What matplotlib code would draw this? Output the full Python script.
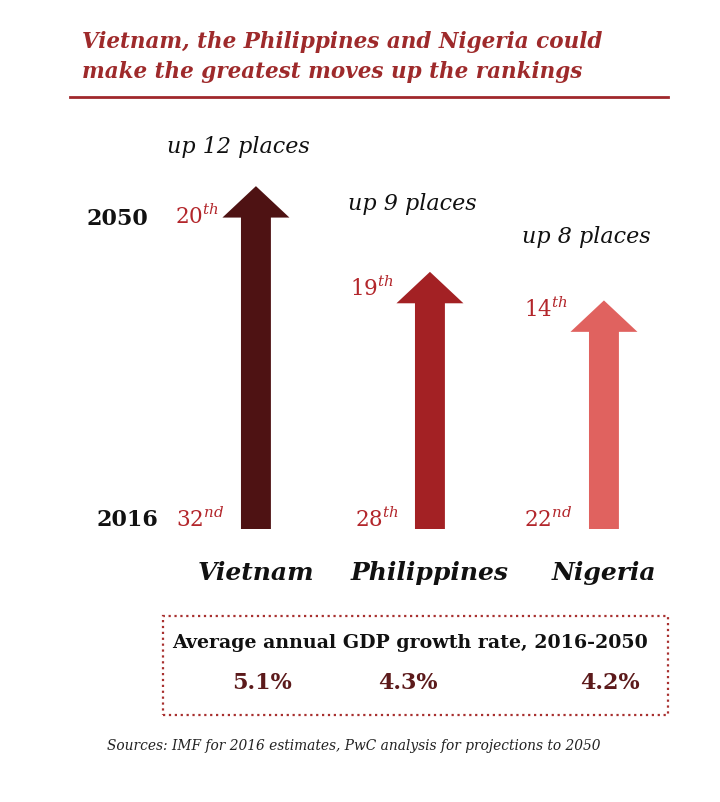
import matplotlib.pyplot as plt
from matplotlib.patches import Rectangle
from matplotlib.lines import Line2D

plt.rcParams['font.family'] = ['DejaVu Serif']
plt.rcParams['mathtext.fontset'] = 'dejavuserif'

# data
countries = ["Vietnam", "Philippines", "Nigeria"]
rank_2016 = [32, 28, 22]
rank_2050 = [20, 19, 14]
places_up = [12, 9, 8]
gdp_growth = ["5.1%", "4.3%", "4.2%"]
suffix_2016 = ["nd", "th", "nd"]
suffix_2050 = ["th", "th", "th"]

arrow_colors = ["#4e1213", "#a32124", "#e0625f"]
label_dy = [1.4, 2.4, 2.25]   # gap between arrow tip and "up N places"
rank_dy = [1.05, 0.55, 0.3]   # 2050 rank label below tip

fig = plt.figure(figsize=(7.2, 8.03), dpi=100)
W, H = 720, 803

def fx(px):
    return px / W

def fy(py):
    return 1 - py / H

# title + rule
fig.text(fx(82), fy(42), "Vietnam, the Philippines and Nigeria could",
         fontsize=15.5, fontweight='bold', fontstyle='italic', color='#9e2a2b', va='center')
fig.text(fx(82), fy(72), "make the greatest moves up the rankings",
         fontsize=15.5, fontweight='bold', fontstyle='italic', color='#9e2a2b', va='center')
fig.add_artist(Line2D([fx(70), fx(668)], [fy(98), fy(98)], color='#a0282c', lw=2))

# arrows
ax = fig.add_axes([fx(60), fy(600), (700 - 60) / W, (600 - 120) / H])
ax.set_xlim(-1.126, 2.552)
ax.set_ylim(-2.45, 14.35)
ax.axis('off')

for i, c in enumerate(countries):
    ax.arrow(i, 0, 0, places_up[i], width=0.172, head_width=0.385, head_length=1.1,
             length_includes_head=True, color=arrow_colors[i], lw=0)
    ax.text(i - 0.1, places_up[i] + label_dy[i], f"up {places_up[i]} places",
            fontsize=16, fontstyle='italic', ha='center', va='center', color='#111111')
    ax.text(i - 0.21, places_up[i] - rank_dy[i], rf"$\mathit{{{rank_2050[i]}}}^{{{suffix_2050[i]}}}$",
            fontsize=15.5, ha='right', va='center', color='#b3262b')
    ax.text(i - 0.18, 0.35, rf"$\mathit{{{rank_2016[i]}}}^{{{suffix_2016[i]}}}$",
            fontsize=15.5, ha='right', va='center', color='#b3262b')
    ax.text(i, -1.5, c, fontsize=18, fontweight='bold', fontstyle='italic',
            ha='center', va='center', color='#111111')

ax.text(-0.62, 10.9, "2050", fontsize=16, fontweight='bold', ha='right', va='center', color='#111111')
ax.text(-0.56, 0.35, "2016", fontsize=16, fontweight='bold', ha='right', va='center', color='#111111')

# growth box
fig.add_artist(Rectangle((fx(163), fy(716)), (668 - 163) / W, (716 - 617) / H,
                         fill=False, ls=':', lw=1.6, ec='#a8302f'))
fig.text(fx(172), fy(643), "Average annual GDP growth rate, 2016-2050",
         fontsize=13.7, fontweight='bold', va='center', color='#111111')
for i, g in enumerate(gdp_growth):
    fig.text(fx([262, 408, 610][i]), fy(683), g, fontsize=16, fontweight='bold',
             ha='center', va='center', color='#5c1a1b')

fig.text(fx(107), fy(746), "Sources: IMF for 2016 estimates, PwC analysis for projections to 2050",
         fontsize=9.9, fontstyle='italic', va='center', color='#222222')

fig.savefig("out.png", dpi=100, facecolor='white')
